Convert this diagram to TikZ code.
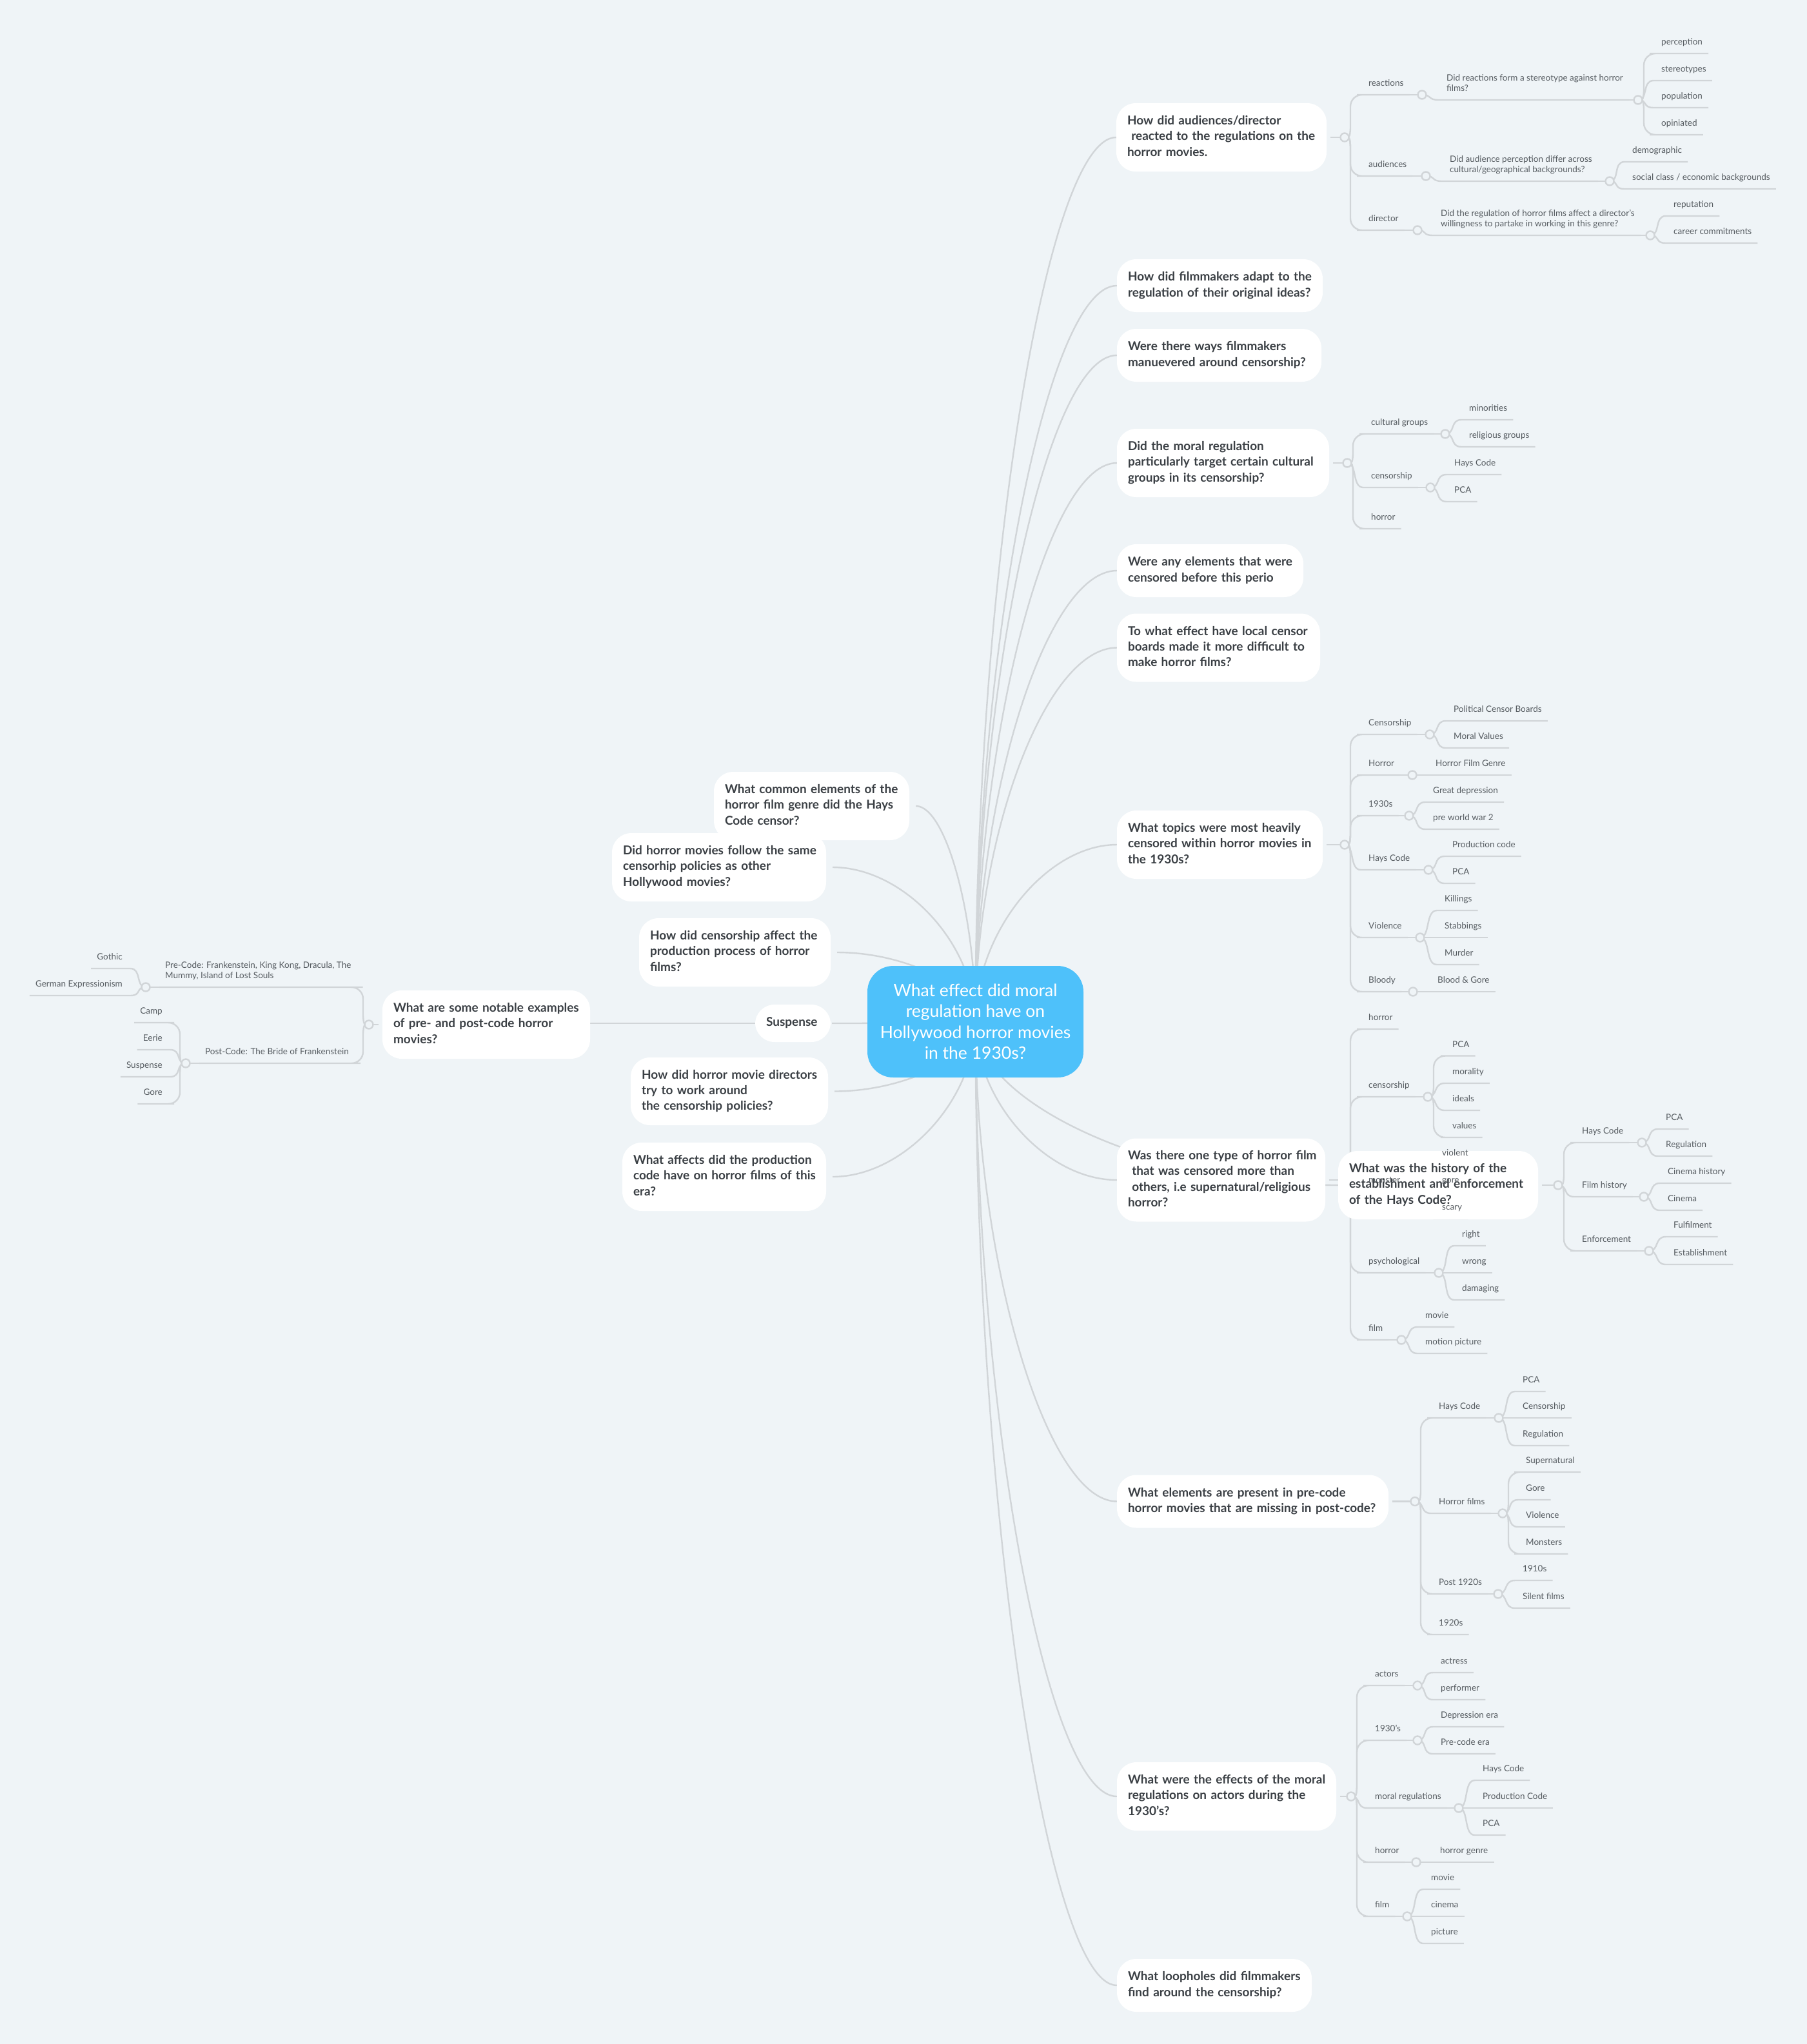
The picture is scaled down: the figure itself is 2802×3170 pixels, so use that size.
\documentclass[tikz,border=0pt]{standalone}
\usepackage{fontspec}
\setmainfont{Lato}
\usetikzlibrary{calc}
\definecolor{bgc}{HTML}{EFF4F7}
\definecolor{lnc}{HTML}{D1D5D8}
\definecolor{rootc}{HTML}{4EC1FA}
\definecolor{txtc}{HTML}{3A3F44}
\definecolor{subc}{HTML}{565C61}
\pgfdeclarelayer{bgl}
\pgfdeclarelayer{midl}
\pgfdeclarelayer{topl}
\pgfsetlayers{bgl,midl,main,topl}
\newcommand\qfont{\fontsize{19}{24.3}\selectfont\bfseries}
\newcommand\lfont{\fontsize{13.5}{16.3}\selectfont}
\newcommand\rfont{\fontsize{26.5}{32.4}\selectfont}
\newcommand\TL[1]{\begin{tabular}{@{}l@{}}#1\end{tabular}}
\newcommand\TB[1]{\begin{tabular}[b]{@{}l@{}}#1\end{tabular}}
\tikzset{
 ln/.style={draw=lnc, line width=2.4pt},
 knob/.style={circle, draw=lnc, line width=2.4pt, fill=bgc, minimum size=13pt, inner sep=0pt},
 qbox/.style={rectangle, rounded corners=30pt, fill=white, text=txtc, font=\qfont, inner xsep=17pt, inner ysep=0pt, minimum height=#1},
 lbl/.style={inner sep=0pt, text=subc, font=\lfont, text depth=13pt, anchor=south west},
 lblR/.style={lbl, anchor=south east},
 rootbox/.style={rectangle, rounded corners=40pt, fill=rootc, text=white, font=\rfont, align=center, minimum width=335pt, minimum height=173pt, inner sep=0pt}
}
% right-side branches
\newcommand\kU[2]{\draw[ln] (#1.center) .. controls +(8,0) .. ++(9,-14) [rounded corners=18pt] |- (#2.south west) [sharp corners] -- ([xshift=9pt]#2.south east);}
\newcommand\kD[2]{\draw[ln] (#1.center) .. controls +(8,0) .. ++(9,14) [rounded corners=18pt] |- (#2.south west) [sharp corners] -- ([xshift=9pt]#2.south east);}
\newcommand\kS[2]{\draw[ln] (#1.center) .. controls +(16,0) and ([xshift=-30pt]#2.south west) .. ([xshift=-12pt]#2.south west) -- ([xshift=9pt]#2.south east);}
% left-side branches
\newcommand\kLU[2]{\draw[ln] (#1.center) .. controls +(-8,0) .. ++(-9,-14) [rounded corners=18pt] |- (#2.south east) [sharp corners] -- ([xshift=-9pt]#2.south west);}
\newcommand\kLD[2]{\draw[ln] (#1.center) .. controls +(-8,0) .. ++(-9,14) [rounded corners=18pt] |- (#2.south east) [sharp corners] -- ([xshift=-9pt]#2.south west);}
\newcommand\kLS[2]{\draw[ln] (#1.center) .. controls +(-16,0) and ([xshift=30pt]#2.south east) .. ([xshift=12pt]#2.south east) -- ([xshift=-9pt]#2.south west);}
\newcommand\st[2]{\draw[ln] (#1.south east) -- (#2.center);}
\newcommand\stL[2]{\draw[ln] (#1.south west) -- (#2.center);}
\newcommand\ms[2]{\draw[ln] ([xshift=6pt]#1.east) -- (#2.center);}
\newcommand\rc[1]{\draw[ln] let \p1=(root.center), \p2=(#1) in (\p1) .. controls (\x1,{0.5*(\y1)+0.5*(\y2)}) and ({0.5*(\x1)+0.5*(\x2)},\y2) .. (\p2);}

\begin{document}
\begin{tikzpicture}[x=1pt,y=-1pt]
\begin{pgfonlayer}{bgl}
\fill[bgc] (0,0) rectangle (2802,3170);
\end{pgfonlayer}
\useasboundingbox (0,0) rectangle (2802,3170);

% ---------- root and main questions ----------
\node[rootbox] (root) at (1512.5,1584.5) {What effect did moral\\regulation have on\\Hollywood horror movies\\in the 1930s?};

\node[qbox=106, text width=292pt] (A) at (1894,213) {\TL{How did audiences/director\\~reacted to the regulations on the\\horror movies.}};
\node[qbox=82, text width=285pt] (B) at (1891.5,443) {\TL{How did filmmakers adapt to the\\regulation of their original ideas?}};
\node[qbox=82, text width=283pt] (C) at (1890.5,551) {\TL{Were there ways filmmakers\\manuevered around censorship?}};
\node[qbox=106, text width=295pt] (D) at (1896.5,718) {\TL{Did the moral regulation\\particularly target certain cultural\\groups in its censorship?}};
\node[qbox=82, text width=255pt] (E) at (1876.5,885) {\TL{Were any elements that were\\censored before this perio}};
\node[qbox=106, text width=281pt] (F) at (1889.5,1004.5) {\TL{To what effect have local censor\\boards made it more difficult to\\make horror films?}};
\node[qbox=106, text width=285pt] (G) at (1891.5,1310) {\TL{What topics were most heavily\\censored within horror movies in\\the 1930s?}};
\node[qbox=129, text width=289pt] (H) at (1893.5,1830) {\TL{Was there one type of horror film\\~that was censored more than\\~others, i.e supernatural/religious\\horror?}};
\node[qbox=106, text width=276pt] (I) at (2230,1838) {\TL{What was the history of the\\establishment and enforcement\\of the Hays Code?}};
\node[qbox=82, text width=387pt] (J) at (1942.5,2328.5) {\TL{What elements are present in pre-code\\horror movies that are missing in post-code?}};
\node[qbox=106, text width=306pt] (K) at (1902,2786) {\TL{What were the effects of the moral\\regulations on actors during the\\1930's?}};
\node[qbox=82, text width=268pt] (L) at (1883,3079) {\TL{What loopholes did filmmakers\\find around the censorship?}};

\node[qbox=106, text width=269pt] (LA) at (1258.5,1250) {\TL{What common elements of the\\horror film genre did the Hays\\Code censor?}};
\node[qbox=106, text width=298pt] (LB) at (1115,1345) {\TL{Did horror movies follow the same\\censorhip policies as other\\Hollywood movies?}};
\node[qbox=106, text width=263pt] (LC) at (1139.5,1477) {\TL{How did censorship affect the\\production process of horror\\films?}};
\node[qbox=58, text width=83pt] (LD) at (1229.5,1587) {\TL{Suspense}};
\node[qbox=105, text width=272pt] (LE) at (1131,1692.5) {\TL{How did horror movie directors\\try to work around\\the censorship policies?}};
\node[qbox=106, text width=282pt] (LF) at (1123,1825) {\TL{What affects did the production\\code have on horror films of this\\era?}};
\node[qbox=106, text width=288pt] (N) at (754,1589) {\TL{What are some notable examples\\of pre- and post-code horror\\movies?}};

% ---------- small labels ----------
\begin{pgfonlayer}{topl}
\node[lbl] (A1) at (2122,147) {reactions};
\node[lbl] (A11) at (2243,155) {\TB{Did reactions form a stereotype against horror\\films?}};
\node[lbl] (A111) at (2576,83) {perception};
\node[lbl] (A112) at (2576,125) {stereotypes};
\node[lbl] (A113) at (2576,167) {population};
\node[lbl] (A114) at (2576,209) {opiniated};
\node[lbl] (A2) at (2122,273) {audiences};
\node[lbl] (A21) at (2248,281) {\TB{Did audience perception differ across\\cultural/geographical backgrounds?}};
\node[lbl] (A211) at (2531,251) {demographic};
\node[lbl] (A212) at (2531,293) {social class / economic backgrounds};
\node[lbl] (A3) at (2122,357) {director};
\node[lbl] (A31) at (2234,365) {\TB{Did the regulation of horror films affect a director's\\willingness to partake in working in this genre?}};
\node[lbl] (A311) at (2595,335) {reputation};
\node[lbl] (A312) at (2595,377) {career commitments};

\node[lbl] (D1) at (2126,673) {cultural groups};
\node[lbl] (D11) at (2278,651) {minorities};
\node[lbl] (D12) at (2278,693) {religious groups};
\node[lbl] (D2) at (2126,756) {censorship};
\node[lbl] (D21) at (2255,736) {Hays Code};
\node[lbl] (D22) at (2255,778) {PCA};
\node[lbl] (D3) at (2126,820) {horror};

\node[lbl] (G1) at (2122,1139) {Censorship};
\node[lbl] (G11) at (2254,1118) {Political Censor Boards};
\node[lbl] (G12) at (2254,1160) {Moral Values};
\node[lbl] (G2) at (2122,1202) {Horror};
\node[lbl] (G21) at (2226,1202) {Horror Film Genre};
\node[lbl] (G3) at (2122,1265) {1930s};
\node[lbl] (G31) at (2222,1244) {Great depression};
\node[lbl] (G32) at (2222,1286) {pre world war 2};
\node[lbl] (G4) at (2122,1349) {Hays Code};
\node[lbl] (G41) at (2252,1328) {Production code};
\node[lbl] (G42) at (2252,1370) {PCA};
\node[lbl] (G5) at (2122,1454) {Violence};
\node[lbl] (G51) at (2240,1412) {Killings};
\node[lbl] (G52) at (2240,1454) {Stabbings};
\node[lbl] (G53) at (2240,1496) {Murder};
\node[lbl] (G6) at (2122,1538) {Bloody};
\node[lbl] (G61) at (2229,1538) {Blood \& Gore};

\node[lbl] (H1) at (2122,1596) {horror};
\node[lbl] (H2) at (2122,1701) {censorship};
\node[lbl] (H21) at (2252,1637.5) {PCA};
\node[lbl] (H22) at (2252,1680) {morality};
\node[lbl] (H23) at (2252,1722) {ideals};
\node[lbl] (H24) at (2252,1764) {values};
\node[lbl] (H3) at (2122,1848) {monster};
\node[lbl] (H31) at (2236,1806) {violent};
\node[lbl] (H32) at (2236,1848) {gore};
\node[lbl] (H33) at (2236,1890) {scary};
\node[lbl] (H4) at (2122,1974) {psychological};
\node[lbl] (H41) at (2267,1932) {right};
\node[lbl] (H42) at (2267,1974) {wrong};
\node[lbl] (H43) at (2267,2016) {damaging};
\node[lbl] (H5) at (2122,2078) {film};
\node[lbl] (H51) at (2210,2058) {movie};
\node[lbl] (H52) at (2210,2099) {motion picture};

\node[lbl] (I1) at (2453,1772) {Hays Code};
\node[lbl] (I11) at (2583,1751) {PCA};
\node[lbl] (I12) at (2583,1793) {Regulation};
\node[lbl] (I2) at (2453,1856) {Film history};
\node[lbl] (I21) at (2586,1835) {Cinema history};
\node[lbl] (I22) at (2586,1877) {Cinema};
\node[lbl] (I3) at (2453,1940) {Enforcement};
\node[lbl] (I31) at (2595,1918) {Fulfilment};
\node[lbl] (I32) at (2595,1961) {Establishment};

\node[lbl] (J1) at (2231,2199) {Hays Code};
\node[lbl] (J11) at (2361,2158) {PCA};
\node[lbl] (J12) at (2361,2199) {Censorship};
\node[lbl] (J13) at (2361,2242) {Regulation};
\node[lbl] (J2) at (2231,2347) {Horror films};
\node[lbl] (J21) at (2366,2283) {Supernatural};
\node[lbl] (J22) at (2366,2326) {Gore};
\node[lbl] (J23) at (2366,2368) {Violence};
\node[lbl] (J24) at (2366,2410) {Monsters};
\node[lbl] (J3) at (2231,2472) {Post 1920s};
\node[lbl] (J31) at (2361,2451) {1910s};
\node[lbl] (J32) at (2361,2494) {Silent films};
\node[lbl] (J4) at (2231,2535) {1920s};

\node[lbl] (K1) at (2132,2614) {actors};
\node[lbl] (K11) at (2234,2594) {actress};
\node[lbl] (K12) at (2234,2636) {performer};
\node[lbl] (K2) at (2132,2699) {1930's};
\node[lbl] (K21) at (2234,2678) {Depression era};
\node[lbl] (K22) at (2234,2720) {Pre-code era};
\node[lbl] (K3) at (2132,2804) {moral regulations};
\node[lbl] (K31) at (2299,2761) {Hays Code};
\node[lbl] (K32) at (2299,2804) {Production Code};
\node[lbl] (K33) at (2299,2846) {PCA};
\node[lbl] (K4) at (2132,2888) {horror};
\node[lbl] (K41) at (2233,2888) {horror genre};
\node[lbl] (K5) at (2132,2972) {film};
\node[lbl] (K51) at (2219,2930) {movie};
\node[lbl] (K52) at (2219,2972) {cinema};
\node[lbl] (K53) at (2219,3014) {picture};

\node[lbl] (N1) at (256,1531) {\TB{Pre-Code: Frankenstein, King Kong, Dracula, The\\Mummy, Island of Lost Souls}};
\node[lblR] (N11) at (190,1502) {Gothic};
\node[lblR] (N12) at (190,1544) {German Expressionism};
\node[lbl] (N2) at (318,1649) {Post-Code: The Bride of Frankenstein};
\node[lblR] (N21) at (252,1586) {Camp};
\node[lblR] (N22) at (252,1628) {Eerie};
\node[lblR] (N23) at (252,1670) {Suspense};
\node[lblR] (N24) at (252,1712) {Gore};
\end{pgfonlayer}

% ---------- fold circles ----------
\begin{pgfonlayer}{midl}
\node[knob] (cA) at (2085,213) {};
\node[knob] (cA1) at (2205,147) {};
\node[knob] (cA11) at (2540,155) {};
\node[knob] (cA2) at (2211,273) {};
\node[knob] (cA21) at (2496,281) {};
\node[knob] (cA3) at (2198,357) {};
\node[knob] (cA31) at (2559,365) {};
\node[knob] (cD) at (2089,718) {};
\node[knob] (cD1) at (2241,673) {};
\node[knob] (cD2) at (2218,756) {};
\node[knob] (cG) at (2085,1310) {};
\node[knob] (cG1) at (2217,1139) {};
\node[knob] (cG2) at (2190,1202) {};
\node[knob] (cG3) at (2185,1265) {};
\node[knob] (cG4) at (2215,1349) {};
\node[knob] (cG5) at (2202,1454) {};
\node[knob] (cG6) at (2191,1538) {};
\node[knob] (cH) at (2085,1830) {};
\node[knob] (cH2) at (2214,1701) {};
\node[knob] (cH3) at (2199,1848) {};
\node[knob] (cH4) at (2231,1974) {};
\node[knob] (cH5) at (2173,2078) {};
\node[knob] (cI) at (2416,1838) {};
\node[knob] (cI1) at (2546,1772) {};
\node[knob] (cI2) at (2549,1856) {};
\node[knob] (cI3) at (2557,1940) {};
\node[knob] (cJ) at (2194,2328.5) {};
\node[knob] (cJ1) at (2324,2199) {};
\node[knob] (cJ2) at (2330,2347) {};
\node[knob] (cJ3) at (2323,2472) {};
\node[knob] (cK) at (2095,2786) {};
\node[knob] (cK1) at (2198,2614) {};
\node[knob] (cK2) at (2198,2699) {};
\node[knob] (cK3) at (2262,2804) {};
\node[knob] (cK4) at (2196,2888) {};
\node[knob] (cK5) at (2182,2972) {};
\node[knob] (cN) at (572,1589) {};
\node[knob] (cN1) at (226,1531) {};
\node[knob] (cN2) at (288,1649) {};
\end{pgfonlayer}

% ---------- connectors ----------
\begin{pgfonlayer}{bgl}
\rc{A.west}\rc{B.west}\rc{C.west}\rc{D.west}\rc{E.west}\rc{F.west}
\rc{G.west}\rc{H.west}\rc{I.west}\rc{J.west}\rc{K.west}\rc{L.west}
\rc{[xshift=10pt]LA.east}\rc{[xshift=10pt]LB.east}\rc{[xshift=10pt]LC.east}
\rc{[xshift=2pt]LD.east}\rc{[xshift=10pt]LE.east}\rc{[xshift=10pt]LF.east}
\draw[ln] (LD.west) -- (N.east |- LD.west);

\ms{A}{cA}\ms{D}{cD}\ms{G}{cG}\ms{H}{cH}\ms{I}{cI}\ms{J}{cJ}\ms{K}{cK}
\draw[ln] ([xshift=-6pt]N.west) -- (cN.center);

% A
\kU{cA}{A1}\kD{cA}{A2}\kD{cA}{A3}
\st{A1}{cA1}\kS{cA1}{A11}\st{A11}{cA11}
\kU{cA11}{A111}\kS{cA11}{A112}\kS{cA11}{A113}\kD{cA11}{A114}
\st{A2}{cA2}\kS{cA2}{A21}\st{A21}{cA21}
\kS{cA21}{A211}\kS{cA21}{A212}
\st{A3}{cA3}\kS{cA3}{A31}\st{A31}{cA31}
\kS{cA31}{A311}\kS{cA31}{A312}
% D
\kU{cD}{D1}\kS{cD}{D2}\kD{cD}{D3}
\st{D1}{cD1}\kS{cD1}{D11}\kS{cD1}{D12}
\st{D2}{cD2}\kS{cD2}{D21}\kS{cD2}{D22}
% G
\kU{cG}{G1}\kU{cG}{G2}\kU{cG}{G3}\kS{cG}{G4}\kD{cG}{G5}\kD{cG}{G6}
\st{G1}{cG1}\kS{cG1}{G11}\kS{cG1}{G12}
\st{G2}{cG2}\kS{cG2}{G21}
\st{G3}{cG3}\kS{cG3}{G31}\kS{cG3}{G32}
\st{G4}{cG4}\kS{cG4}{G41}\kS{cG4}{G42}
\st{G5}{cG5}\kS{cG5}{G51}\kS{cG5}{G52}\kS{cG5}{G53}
\st{G6}{cG6}\kS{cG6}{G61}
% H
\kU{cH}{H1}\kU{cH}{H2}\kS{cH}{H3}\kD{cH}{H4}\kD{cH}{H5}
\st{H2}{cH2}\kU{cH2}{H21}\kS{cH2}{H22}\kS{cH2}{H23}\kD{cH2}{H24}
\st{H3}{cH3}\kS{cH3}{H31}\kS{cH3}{H32}\kS{cH3}{H33}
\st{H4}{cH4}\kS{cH4}{H41}\kS{cH4}{H42}\kS{cH4}{H43}
\st{H5}{cH5}\kS{cH5}{H51}\kS{cH5}{H52}
% I
\kU{cI}{I1}\kS{cI}{I2}\kD{cI}{I3}
\st{I1}{cI1}\kS{cI1}{I11}\kS{cI1}{I12}
\st{I2}{cI2}\kS{cI2}{I21}\kS{cI2}{I22}
\st{I3}{cI3}\kS{cI3}{I31}\kS{cI3}{I32}
% J
\kU{cJ}{J1}\kS{cJ}{J2}\kD{cJ}{J3}\kD{cJ}{J4}
\st{J1}{cJ1}\kS{cJ1}{J11}\kS{cJ1}{J12}\kS{cJ1}{J13}
\st{J2}{cJ2}\kU{cJ2}{J21}\kS{cJ2}{J22}\kS{cJ2}{J23}\kD{cJ2}{J24}
\st{J3}{cJ3}\kS{cJ3}{J31}\kS{cJ3}{J32}
% K
\kU{cK}{K1}\kU{cK}{K2}\kS{cK}{K3}\kD{cK}{K4}\kD{cK}{K5}
\st{K1}{cK1}\kS{cK1}{K11}\kS{cK1}{K12}
\st{K2}{cK2}\kS{cK2}{K21}\kS{cK2}{K22}
\st{K3}{cK3}\kS{cK3}{K31}\kS{cK3}{K32}\kS{cK3}{K33}
\st{K4}{cK4}\kS{cK4}{K41}
\st{K5}{cK5}\kS{cK5}{K51}\kS{cK5}{K52}\kS{cK5}{K53}
% N (left side)
\kLU{cN}{N1}\kLD{cN}{N2}
\stL{N1}{cN1}\kLS{cN1}{N11}\kLS{cN1}{N12}
\stL{N2}{cN2}\kLU{cN2}{N21}\kLS{cN2}{N22}\kLS{cN2}{N23}\kLD{cN2}{N24}
\end{pgfonlayer}
\end{tikzpicture}
\end{document}
